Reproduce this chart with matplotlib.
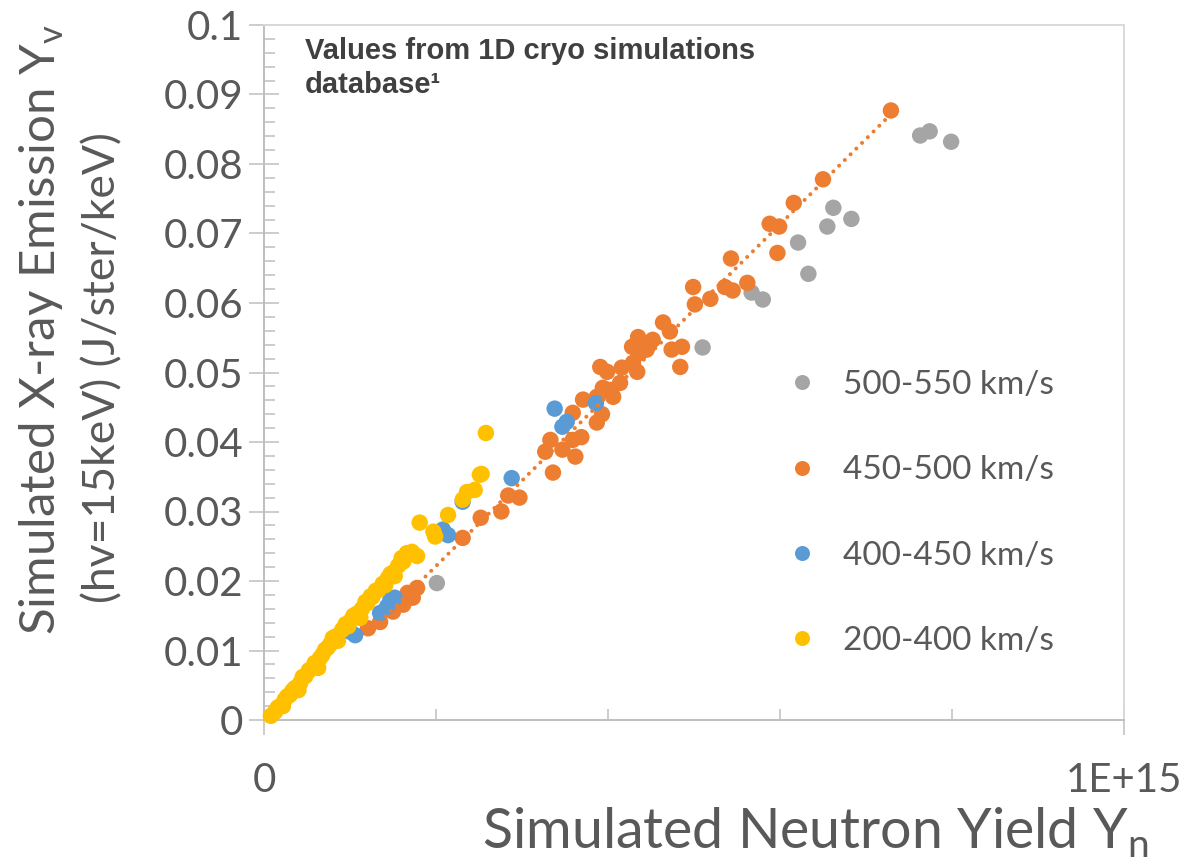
import numpy as np
import matplotlib
matplotlib.use("Agg")
import matplotlib.pyplot as plt
from matplotlib.ticker import FixedLocator, MultipleLocator, FuncFormatter
from matplotlib.lines import Line2D

plt.rcParams['font.family'] = ['Lato', 'DejaVu Sans']

# Simulated neutron yield (units of 1e14) and X-ray emission (J/ster/keV)
gray_x = [2.01, 5.10, 5.67, 5.80, 6.21, 6.33, 6.55, 6.62, 6.83, 7.63, 7.74, 7.99]
gray_y = [0.0197, 0.0536, 0.0615, 0.0605, 0.0687, 0.0642, 0.0710, 0.0737,
          0.0721, 0.0841, 0.0847, 0.0832]

orange_x = [1.21, 1.35, 1.50, 1.62, 1.67, 1.73, 1.78, 2.31, 2.52, 2.76, 2.84, 2.97,
            3.27, 3.36, 3.33, 3.47, 3.62, 3.59, 3.69, 3.59, 3.71, 3.87, 4.06, 4.02,
            3.87, 3.93, 4.14, 3.94, 3.91, 3.99, 4.16, 4.29, 4.34, 4.28, 4.35, 4.45,
            4.52, 4.37, 4.64, 4.72, 4.74, 4.86, 4.84, 4.99, 5.01, 5.19, 5.36, 5.45,
            5.43, 5.62, 5.88, 5.99, 5.97, 6.16, 6.50, 7.29]
orange_y = [0.0132, 0.0141, 0.0156, 0.0166, 0.0183, 0.0176, 0.0190, 0.0262, 0.0291,
            0.0300, 0.0323, 0.0320, 0.0386, 0.0356, 0.0403, 0.0389, 0.0379, 0.0403,
            0.0407, 0.0442, 0.0461, 0.0465, 0.0465, 0.0475, 0.0428, 0.0440, 0.0485,
            0.0478, 0.0508, 0.0501, 0.0507, 0.0514, 0.0501, 0.0537, 0.0551, 0.0533,
            0.0547, 0.0528, 0.0572, 0.0559, 0.0533, 0.0537, 0.0508, 0.0623, 0.0598,
            0.0606, 0.0623, 0.0618, 0.0664, 0.0629, 0.0714, 0.0710, 0.0672, 0.0744,
            0.0778, 0.0877]

blue_x = [1.00, 1.06, 1.35, 1.43, 1.47, 1.52, 2.08, 2.14, 2.31, 2.88, 3.38, 3.47, 3.52, 3.86]
blue_y = [0.0127, 0.0122, 0.0154, 0.0163, 0.0173, 0.0176, 0.0274, 0.0266, 0.0314,
          0.0348, 0.0448, 0.0422, 0.0429, 0.0456]

yellow_x = [0.08, 0.13, 0.19, 0.24, 0.30, 0.36, 0.42, 0.48, 0.53, 0.59, 0.65, 0.71,
            0.77, 0.83, 0.91, 0.98, 1.02, 1.08, 1.14, 1.20, 1.26, 1.33, 1.38, 1.44,
            1.50, 1.56, 1.60, 1.66, 1.72, 1.78, 0.22, 0.40, 0.63, 0.86, 1.12, 1.41,
            1.52, 0.16, 0.33, 0.52, 0.74, 0.95, 1.18, 1.30, 0.27, 0.45, 0.68, 0.80,
            1.04, 1.24, 1.47, 1.62,
            1.81, 1.97, 1.99, 2.14, 2.31, 2.36, 2.45, 2.51, 2.53, 2.58]
yellow_y = [0.0006, 0.0012, 0.0020, 0.0029, 0.0036, 0.0046, 0.0053, 0.0063, 0.0072,
            0.0082, 0.0089, 0.0101, 0.0109, 0.0120, 0.0130, 0.0135, 0.0145, 0.0153,
            0.0160, 0.0168, 0.0177, 0.0187, 0.0196, 0.0204, 0.0212, 0.0222, 0.0233,
            0.0240, 0.0242, 0.0236, 0.0020, 0.0043, 0.0075, 0.0114, 0.0147, 0.0194,
            0.0207, 0.0018, 0.0042, 0.0071, 0.0104, 0.0138, 0.0170, 0.0186, 0.0034,
            0.0062, 0.0094, 0.0118, 0.0150, 0.0178, 0.0210, 0.0228,
            0.0284, 0.0271, 0.0264, 0.0295, 0.0317, 0.0328, 0.0331, 0.0353,
            0.0354, 0.0413]

labels = ['500-550 km/s', '450-500 km/s', '400-450 km/s', '200-400 km/s']
colors = ['#A5A5A5', '#ED7D31', '#5B9BD5', '#FFC000']
XSCALE = 1e14

fig = plt.figure(figsize=(12.01, 8.58), dpi=100)
W, H = 1201, 858
ax = fig.add_axes([264 / W, 1 - 720 / H, (1124 - 264) / W, (720 - 25) / H])

series = [(gray_x, gray_y), (orange_x, orange_y), (blue_x, blue_y), (yellow_x, yellow_y)]
for (sx, sy), c in zip(series, colors):
    ax.scatter(np.array(sx) * XSCALE, sy, s=140, color=c, edgecolors='none',
               zorder=3, clip_on=False)

# Linear trendline of the 450-500 km/s series (round-dot style)
ox = np.array(orange_x) * XSCALE
oy = np.array(orange_y)
slope, intercept = np.polyfit(ox, oy, 1)
tx = np.array([ox.min(), ox.max()])
ax.plot(tx, slope * tx + intercept, color='#ED7D31', lw=2.9,
        dashes=(0.01, 2.0), dash_capstyle='round', zorder=5)

ax.set_xlim(0, 1e15)
ax.set_ylim(0, 0.1)
ax.xaxis.set_major_locator(FixedLocator([0, 1e15]))
ax.xaxis.set_minor_locator(MultipleLocator(2e14))
ax.yaxis.set_major_locator(MultipleLocator(0.01))
ax.yaxis.set_minor_locator(MultipleLocator(0.002))
ax.xaxis.set_major_formatter(FuncFormatter(lambda v, p: '0' if v == 0 else '1E+15'))
ax.yaxis.set_major_formatter(FuncFormatter(lambda v, p: f"{round(v, 3):g}"))

axis_col = '#BFBFBF'
ax.tick_params(axis='y', which='major', direction='inout', length=21.6, width=1.1,
               color=axis_col, labelsize=29, labelcolor='#595959', pad=4)
ax.tick_params(axis='y', which='minor', direction='in', length=8, width=1.1, color=axis_col)
ax.tick_params(axis='x', which='major', direction='inout', length=21, width=1.1,
               color=axis_col, labelsize=29, labelcolor='#595959', pad=20)
ax.tick_params(axis='x', which='minor', direction='in', length=8, width=1.1, color=axis_col)

for side in ['left', 'bottom']:
    ax.spines[side].set_color(axis_col)
    ax.spines[side].set_linewidth(1.4)
for side in ['top', 'right']:
    ax.spines[side].set_color('#D9D9D9')
    ax.spines[side].set_linewidth(1.4)

fig.text(815 / W, 1 - 848 / H, 'Simulated Neutron Yield Y$_\\mathregular{n}$',
         ha='center', va='baseline', fontsize=40, color='#595959')
fig.text(42 / W, 1 - 330 / H, 'Simulated X-ray Emission Y$_\\mathregular{v}$',
         rotation=90, ha='center', va='center', fontsize=35.5, color='#595959')
fig.text(103 / W, 1 - 368 / H, '(hv=15keV) (J/ster/keV)',
         rotation=90, ha='center', va='center', fontsize=32, color='#595959')

fig.text(305 / W, 1 - 59 / H, 'Values from 1D cryo simulations', ha='left',
         va='baseline', fontsize=21, fontweight='bold', color='#404040',
         family=['Liberation Sans', 'DejaVu Sans'])
fig.text(305 / W, 1 - 93 / H, 'database\u00b9', ha='left',
         va='baseline', fontsize=21, fontweight='bold', color='#404040',
         family=['Liberation Sans', 'DejaVu Sans'])

handles = [Line2D([], [], ls='none', marker='o', ms=10.8, mfc=c, mec='none')
           for c in colors]
ax.legend(handles, labels, loc='center left', bbox_to_anchor=(0.6105, 0.2977),
          frameon=False, fontsize=24, labelcolor='#595959', handlelength=0.8,
          handletextpad=0.83, labelspacing=1.66, borderpad=0, borderaxespad=0)

fig.savefig('out.png', dpi=100)
